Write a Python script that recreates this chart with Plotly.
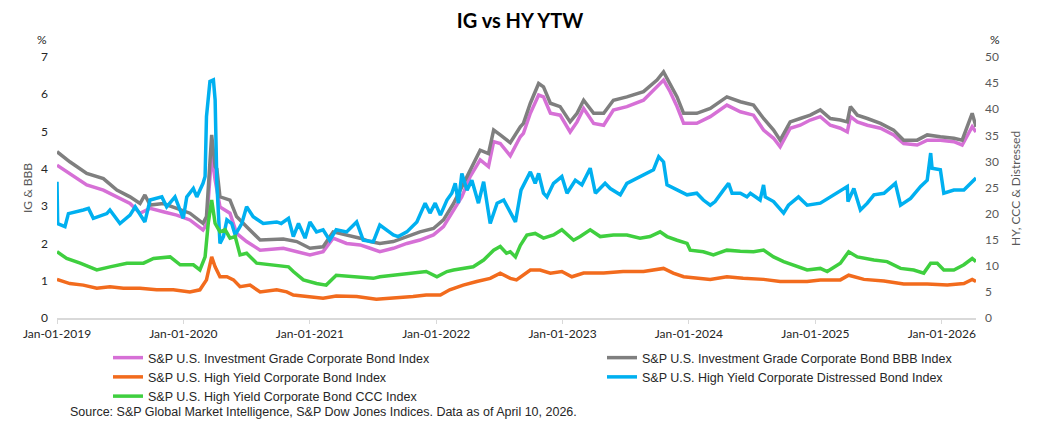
import plotly.graph_objects as go

# ---------------- data ----------------
ig_dates = ["2019-01-01","2019-02-07","2019-03-28","2019-05-15","2019-06-23","2019-07-31","2019-08-29","2019-09-27",
    "2019-11-04","2019-12-13","2020-01-20","2020-02-27","2020-03-08","2020-03-23","2020-04-02","2020-04-16","2020-05-15",
    "2020-06-03","2020-07-02","2020-08-10","2020-10-16","2020-11-24","2021-01-01","2021-02-08","2021-03-09","2021-04-17",
    "2021-05-26","2021-06-24","2021-07-22","2021-08-30","2021-10-08","2021-11-15","2021-12-24","2022-01-22","2022-02-20",
    "2022-03-16","2022-04-09","2022-05-08","2022-06-01","2022-06-16","2022-07-05","2022-08-03","2022-09-01","2022-09-10",
    "2022-09-30","2022-10-24","2022-11-07","2022-11-27","2022-12-25","2023-01-23","2023-02-12","2023-03-03","2023-04-01",
    "2023-04-30","2023-05-28","2023-07-06","2023-08-23","2023-10-01","2023-10-20","2023-11-08","2023-11-28","2023-12-17",
    "2024-01-24","2024-03-03","2024-04-20","2024-05-29","2024-07-06","2024-08-04","2024-09-02","2024-09-21","2024-10-20",
    "2024-11-18","2024-12-17","2025-01-15","2025-02-13","2025-03-14","2025-04-03","2025-04-12","2025-05-02","2025-05-31",
    "2025-07-08","2025-08-15","2025-09-13","2025-10-22","2025-11-20","2025-12-28","2026-02-05","2026-03-01","2026-03-30",
    "2026-04-10"]
ig_values = [4.10,3.88,3.57,3.43,3.25,3.07,2.81,2.94,2.85,2.76,2.63,2.36,2.50,4.40,3.70,2.98,2.81,2.27,2.05,1.82,1.87,1.78,
    1.69,1.78,2.14,2.00,1.96,1.87,1.78,1.87,2.00,2.09,2.23,2.45,2.90,3.25,3.79,4.24,4.06,4.73,4.68,4.35,4.86,4.95,5.49,5.98,
    5.93,5.49,5.44,4.99,5.26,5.62,5.22,5.17,5.58,5.67,5.84,6.20,6.38,6.07,5.67,5.22,5.22,5.40,5.71,5.53,5.44,5.04,4.82,4.59,
    5.09,5.17,5.31,5.40,5.17,5.09,4.99,5.40,5.26,5.17,5.09,4.91,4.68,4.64,4.77,4.77,4.73,4.64,5.13,4.99]

bbb_dates = ["2019-01-01","2019-02-07","2019-03-28","2019-05-15","2019-06-23","2019-07-31","2019-08-29","2019-09-12",
    "2019-09-27","2019-11-04","2019-12-13","2020-01-20","2020-02-27","2020-03-08","2020-03-23","2020-04-02","2020-04-07",
    "2020-04-16","2020-05-15","2020-06-03","2020-07-02","2020-08-10","2020-10-16","2020-11-24","2021-01-01","2021-02-08",
    "2021-03-09","2021-04-17","2021-05-26","2021-06-24","2021-07-22","2021-08-30","2021-10-08","2021-11-15","2021-12-24",
    "2022-01-22","2022-02-20","2022-03-16","2022-04-09","2022-05-08","2022-06-01","2022-06-16","2022-07-05","2022-08-03",
    "2022-09-01","2022-09-10","2022-09-30","2022-10-24","2022-11-07","2022-11-27","2022-12-25","2023-01-23","2023-02-12",
    "2023-03-03","2023-04-01","2023-04-30","2023-05-28","2023-07-06","2023-08-23","2023-10-01","2023-10-20","2023-11-08",
    "2023-11-28","2023-12-17","2024-01-24","2024-03-03","2024-04-20","2024-05-29","2024-07-06","2024-08-04","2024-09-02",
    "2024-09-21","2024-10-20","2024-11-18","2024-12-17","2025-01-15","2025-02-13","2025-03-14","2025-04-03","2025-04-12",
    "2025-05-02","2025-05-31","2025-07-08","2025-08-15","2025-09-13","2025-10-22","2025-11-20","2025-12-28","2026-02-05",
    "2026-03-01","2026-03-30","2026-04-10"]
bbb_values = [4.46,4.19,3.88,3.74,3.43,3.25,3.07,3.30,3.03,3.07,2.94,2.81,2.54,2.72,4.91,4.06,4.00,3.25,3.16,2.72,2.45,
    2.09,2.12,2.05,1.87,1.91,2.31,2.23,2.14,2.05,2.00,2.05,2.18,2.31,2.40,2.63,3.07,3.52,3.97,4.50,4.41,5.04,4.91,4.70,
    5.13,5.22,5.76,6.29,6.20,5.76,5.67,5.26,5.49,5.84,5.49,5.49,5.84,5.93,6.07,6.38,6.60,6.29,5.93,5.49,5.49,5.62,5.93,
    5.80,5.71,5.35,5.04,4.77,5.26,5.35,5.44,5.58,5.35,5.31,5.26,5.67,5.44,5.35,5.22,5.04,4.77,4.77,4.91,4.86,4.82,4.77,
    5.49,5.13]

hy_dates = ["2019-01-01","2019-02-07","2019-03-18","2019-04-26","2019-06-03","2019-07-12","2019-08-29","2019-10-16",
    "2019-12-03","2020-01-20","2020-02-18","2020-03-08","2020-03-23","2020-04-02","2020-04-16","2020-05-06","2020-05-25",
    "2020-06-13","2020-07-12","2020-08-10","2020-09-27","2020-10-26","2020-11-14","2020-12-23","2021-02-08","2021-03-18",
    "2021-05-16","2021-07-12","2021-09-08","2021-10-26","2021-12-03","2022-01-13","2022-02-09","2022-03-20","2022-04-28",
    "2022-06-06","2022-07-05","2022-08-03","2022-08-21","2022-09-10","2022-09-30","2022-10-28","2022-11-27","2022-12-30",
    "2023-01-28","2023-03-03","2023-04-30","2023-06-25","2023-08-23","2023-10-20","2023-11-17","2023-12-17","2024-01-24",
    "2024-03-03","2024-04-20","2024-06-06","2024-08-04","2024-09-21","2024-12-08","2025-01-15","2025-03-14","2025-04-07",
    "2025-05-21","2025-07-18","2025-09-13","2025-11-20","2026-01-17","2026-03-06","2026-03-30","2026-04-10"]
hy_values = [7.4,6.6,6.3,5.7,6.0,5.7,5.7,5.4,5.4,5.0,5.4,7.3,11.7,9.8,7.9,7.9,7.3,6.0,6.3,5.0,5.4,5.0,4.4,4.1,3.8,4.2,
    4.1,3.6,3.8,4.1,4.4,4.4,5.4,6.3,7.0,7.6,8.6,7.6,7.3,8.2,9.2,9.2,8.6,8.9,7.9,8.6,8.6,8.9,8.9,9.5,8.6,7.9,7.6,7.4,
    7.9,7.6,7.4,7.0,7.0,7.3,7.3,8.2,7.4,7.1,6.5,6.5,6.3,6.6,7.4,7.0]

dist_dates = ["2019-01-01","2019-01-03","2019-01-24","2019-02-03","2019-03-18","2019-04-02","2019-04-16","2019-05-25",
    "2019-06-03","2019-07-02","2019-07-31","2019-08-15","2019-09-12","2019-09-27","2019-10-31","2019-11-14","2019-12-08",
    "2020-01-01","2020-01-11","2020-01-30","2020-02-09","2020-02-27","2020-03-04","2020-03-08","2020-03-18","2020-03-28",
    "2020-04-02","2020-04-07","2020-04-16","2020-04-26","2020-05-06","2020-05-20","2020-05-30","2020-06-18","2020-07-02",
    "2020-07-21","2020-08-19","2020-09-27","2020-10-10","2020-10-31","2020-11-14","2020-11-29","2020-12-18","2021-01-01",
    "2021-01-20","2021-02-08","2021-02-27","2021-03-18","2021-04-17","2021-05-16","2021-06-04","2021-07-03","2021-07-22",
    "2021-08-11","2021-08-30","2021-09-13","2021-10-08","2021-11-06","2021-11-30","2021-12-14","2021-12-29","2022-01-13",
    "2022-02-01","2022-02-15","2022-02-25","2022-03-06","2022-03-16","2022-03-31","2022-04-14","2022-05-03","2022-05-18",
    "2022-06-06","2022-06-26","2022-07-15","2022-08-03","2022-08-18","2022-09-03","2022-09-30","2022-10-14","2022-10-24",
    "2022-11-07","2022-11-17","2022-12-06","2022-12-30","2023-01-14","2023-02-07","2023-02-26","2023-03-22","2023-04-06",
    "2023-05-04","2023-05-19","2023-06-17","2023-07-06","2023-08-04","2023-09-02","2023-09-21","2023-10-06","2023-10-20",
    "2023-10-30","2023-11-28","2023-12-27","2024-01-24","2024-02-12","2024-03-03","2024-03-17","2024-04-10","2024-04-25",
    "2024-05-05","2024-05-29","2024-06-17","2024-06-27","2024-07-25","2024-08-04","2024-08-09","2024-09-02","2024-10-01",
    "2024-10-15","2024-11-13","2024-12-08","2025-01-15","2025-02-13","2025-03-14","2025-04-03","2025-04-05","2025-04-22",
    "2025-05-11","2025-05-31","2025-06-19","2025-07-18","2025-08-20","2025-09-04","2025-10-03","2025-11-01","2025-11-20",
    "2025-11-30","2025-12-04","2025-12-28","2026-01-07","2026-02-05","2026-03-06","2026-03-25","2026-04-10"]
dist_values = [26.1,18.1,17.5,20.0,20.7,21.0,19.1,20.0,20.7,18.1,19.7,21.3,18.4,22.6,23.2,21.3,23.2,19.1,23.2,24.8,23.2,
    25.8,27.1,38.6,45.3,45.6,41.8,25.8,14.3,15.6,18.8,18.1,15.9,18.1,21.3,19.4,18.1,18.4,18.1,19.1,15.6,18.1,15.3,18.4,
    16.5,16.9,14.9,16.9,16.5,18.4,14.9,14.6,17.8,16.9,15.9,15.6,16.5,18.4,22.0,20.1,22.0,19.7,22.6,23.9,25.8,22.0,27.7,
    24.5,26.4,22.0,26.1,18.1,22.0,22.6,20.4,18.4,24.5,28.0,25.8,27.7,23.9,23.2,25.8,27.1,23.9,26.4,25.5,28.7,23.9,25.8,
    24.8,23.6,25.8,26.8,27.7,28.4,30.9,29.9,25.5,24.5,23.6,23.9,22.6,21.6,22.3,24.5,25.8,23.9,23.9,23.2,23.9,22.6,25.5,
    23.2,22.3,20.1,21.6,23.2,21.6,22.0,23.2,24.5,25.2,22.3,24.8,20.7,22.0,23.6,23.9,25.8,21.6,22.9,25.2,26.4,31.6,28.7,
    28.4,23.9,24.5,24.5,25.8,26.8]

ccc_dates = ["2019-01-01","2019-01-29","2019-03-09","2019-04-26","2019-06-03","2019-07-22","2019-09-08","2019-10-07",
    "2019-11-24","2019-12-23","2020-01-30","2020-02-18","2020-03-04","2020-03-13","2020-03-23","2020-04-02","2020-04-16",
    "2020-05-01","2020-05-15","2020-05-30","2020-06-13","2020-07-02","2020-07-31","2020-09-08","2020-10-16","2020-10-31",
    "2020-11-14","2020-12-13","2021-01-20","2021-02-17","2021-03-18","2021-05-06","2021-07-03","2021-07-22","2021-09-08",
    "2021-10-26","2021-12-03","2022-01-03","2022-02-01","2022-02-20","2022-03-20","2022-04-18","2022-05-18","2022-06-16",
    "2022-07-05","2022-07-23","2022-08-03","2022-08-18","2022-09-01","2022-09-20","2022-10-14","2022-11-07","2022-12-06",
    "2022-12-30","2023-02-02","2023-02-21","2023-03-22","2023-04-20","2023-05-28","2023-07-06","2023-08-13","2023-09-11",
    "2023-10-10","2023-10-30","2023-11-28","2023-12-27","2024-01-05","2024-02-12","2024-03-12","2024-04-20","2024-05-29",
    "2024-07-06","2024-08-04","2024-09-02","2024-10-01","2024-11-09","2024-12-08","2025-01-15","2025-02-04","2025-03-14",
    "2025-04-07","2025-05-02","2025-06-19","2025-07-27","2025-09-04","2025-10-12","2025-11-10","2025-11-30","2025-12-19",
    "2026-01-07","2026-02-05","2026-03-06","2026-03-30","2026-04-10"]
ccc_values = [12.7,11.4,10.5,9.2,9.8,10.5,10.5,11.4,11.7,10.2,10.2,9.2,11.7,18.1,22.6,18.1,16.5,16.9,15.3,15.6,12.1,12.4,
    10.5,10.2,9.8,9.8,8.9,7.3,6.6,6.3,8.2,7.9,7.6,7.9,8.2,8.6,8.9,7.9,8.9,9.2,9.5,9.8,11.1,13.0,13.7,12.4,12.7,11.7,13.9,
    15.9,16.2,15.3,15.9,16.9,14.9,15.6,16.9,15.6,15.9,15.9,15.3,15.6,16.5,15.6,14.9,14.3,13.0,12.7,12.1,13.0,12.8,12.7,
    13.0,11.7,10.8,9.8,9.2,9.5,8.9,10.5,12.7,11.7,11.1,10.8,9.5,9.2,8.6,10.5,10.5,9.2,9.2,10.2,11.4,10.8]

series_names = ["S&P U.S. Investment Grade Corporate Bond Index",
                "S&P U.S. Investment Grade Corporate Bond BBB Index",
                "S&P U.S. High Yield Corporate Bond Index",
                "S&P U.S. High Yield Corporate Distressed Bond Index",
                "S&P U.S. High Yield Corporate Bond CCC Index"]
year_ticks = ["2019-01-01","2020-01-01","2021-01-01","2022-01-01","2023-01-01","2024-01-01","2025-01-01","2026-01-01"]

# ---------------- styling ----------------
COL_IG = "#D670D6"
COL_BBB = "#7F7F7F"
COL_HY = "#F26B1D"
COL_DIST = "#00B0F0"
COL_CCC = "#3FCF3F"
LW = 3.5
TXT = "Lato, 'Open Sans', Arial, sans-serif"
LEG = "'Liberation Sans', Arial, sans-serif"

fig = go.Figure()
fig.add_trace(go.Scatter(x=ig_dates, y=ig_values, name=series_names[0], mode="lines",
                         line=dict(color=COL_IG, width=LW), yaxis="y", legend="legend"))
fig.add_trace(go.Scatter(x=bbb_dates, y=bbb_values, name=series_names[1], mode="lines",
                         line=dict(color=COL_BBB, width=LW), yaxis="y", legend="legend2"))
fig.add_trace(go.Scatter(x=hy_dates, y=hy_values, name=series_names[2], mode="lines",
                         line=dict(color=COL_HY, width=LW), yaxis="y2", legend="legend"))
fig.add_trace(go.Scatter(x=dist_dates, y=dist_values, name=series_names[3], mode="lines",
                         line=dict(color=COL_DIST, width=LW), yaxis="y2", legend="legend2"))
fig.add_trace(go.Scatter(x=ccc_dates, y=ccc_values, name=series_names[4], mode="lines",
                         line=dict(color=COL_CCC, width=LW), yaxis="y2", legend="legend"))

# plot area in pixels: x 57..976, y 57..318
PW, PH = 919.0, 261.0
def px(xp):
    return (xp - 57) / PW
def py(yp):
    return (318 - yp) / PH

leg_common = dict(orientation="v", xanchor="left", yanchor="top",
                  itemwidth=30, tracegroupgap=0, bgcolor="rgba(0,0,0,0)",
                  font=dict(family=LEG, size=12.5, color="#262626"))

fig.update_layout(
    width=1040, height=431,
    margin=dict(l=57, r=64, t=57, b=113),
    paper_bgcolor="white", plot_bgcolor="white",
    title=dict(text="<b>IG vs HY YTW</b>", x=0.5, xanchor="center", y=1 - 21 / 431, yanchor="middle",
               font=dict(family=TXT, size=20, color="#000000")),
    showlegend=True,
    legend=dict(x=px(108), y=py(343), **leg_common),
    legend2=dict(x=px(602), y=py(343), **leg_common),
    xaxis=dict(type="date", range=["2019-01-01", "2026-04-10"], tickvals=year_ticks,
               tickformat="%b-%d-%Y", showgrid=False, zeroline=False,
               showline=True, linecolor="#D9D9D9", linewidth=1.5,
               ticks="outside", ticklen=4, tickcolor="#D9D9D9",
               tickfont=dict(family=TXT, size=12, color="#262626")),
    yaxis=dict(range=[0, 7], dtick=1, showgrid=False, zeroline=False, showline=False,
               tickfont=dict(family=TXT, size=12, color="#262626"), ticklabelstandoff=8),
    yaxis2=dict(range=[0, 50], dtick=5, overlaying="y", side="right", showgrid=False,
                zeroline=False, showline=False, ticklabelstandoff=8,
                tickfont=dict(family=TXT, size=12, color="#595959")),
    annotations=[
        dict(text="%", xref="paper", yref="paper", x=px(42), y=py(40), showarrow=False,
             xanchor="center", yanchor="middle", font=dict(family=TXT, size=12, color="#262626")),
        dict(text="%", xref="paper", yref="paper", x=px(995), y=py(40), showarrow=False,
             xanchor="center", yanchor="middle", font=dict(family=TXT, size=12, color="#262626")),
        dict(text="IG & BBB", xref="paper", yref="paper", x=px(27), y=py(188), showarrow=False,
             textangle=-90, xanchor="center", yanchor="middle",
             font=dict(family=TXT, size=12, color="#595959")),
        dict(text="HY, CCC & Distressed", xref="paper", yref="paper", x=px(1015), y=py(188), showarrow=False,
             textangle=-90, xanchor="center", yanchor="middle",
             font=dict(family=TXT, size=12, color="#595959")),
        dict(text="Source: S&P Global Market Intelligence, S&P Dow Jones Indices. Data as of April 10, 2026.",
             xref="paper", yref="paper", x=px(68), y=py(412), showarrow=False,
             xanchor="left", yanchor="middle", font=dict(family=LEG, size=12.5, color="#262626")),
    ],
)

fig.write_html("out.html")
